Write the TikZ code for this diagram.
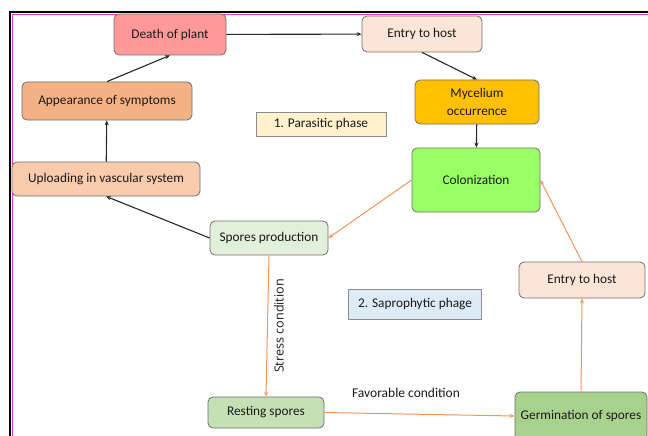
\documentclass[tikz,border=0pt]{standalone}
\usepackage{fontspec}
\setmainfont{Carlito}
\newfontfamily\labelfont{Open Sans}
\usepackage{xcolor}
\usetikzlibrary{arrows.meta}
\definecolor{deathred}{HTML}{FF9999}
\definecolor{entrypeach}{HTML}{FBE5D6}
\definecolor{symporange}{HTML}{F4B183}
\definecolor{uploadpeach}{HTML}{F8CBAD}
\definecolor{myceliumgold}{HTML}{FFC000}
\definecolor{colongreen}{HTML}{99FF66}
\definecolor{sporegreen}{HTML}{E2EFDA}
\definecolor{restgreen}{HTML}{C5E0B4}
\definecolor{germgreen}{HTML}{A9D18E}
\definecolor{phaseyellow}{HTML}{FFF2CC}
\definecolor{phaseblue}{HTML}{DEEBF7}
\definecolor{boxgray}{HTML}{6F6F6F}
\definecolor{textgray}{HTML}{1A1A1A}
\definecolor{lineorange}{HTML}{F4945A}
\definecolor{framepink}{HTML}{E040C0}

\begin{document}
\begin{tikzpicture}[
  x=1pt, y=-1pt,
  >=Stealth,
  stage/.style={rectangle, draw=boxgray, line width=0.8pt, rounded corners=5pt, align=center, text=textgray, font=\fontsize{13.3}{17.5}\selectfont, inner sep=2pt},
  phase/.style={rectangle, draw=boxgray!80, line width=0.8pt, align=center, text=textgray, font=\fontsize{13.3}{15}\selectfont},
  flow/.style={-{Stealth[length=5pt,width=4pt]}, draw=black!85, line width=1.1pt},
  hostflow/.style={-{Stealth[length=5pt,width=4pt]}, draw=lineorange, line width=1pt}
]
  \useasboundingbox (0,0) rectangle (648,436);
  % frame
  \draw[line width=2.6pt] (10,440) -- (10,12) -- (652,12);
  \draw[framepink, line width=0.8pt] (12.1,440) -- (12.1,14) -- (652,14);

  % parasitic cycle
  \node[stage, fill=deathred, minimum width=112pt, minimum height=41pt] (death) at (170,34.5) {Death of plant};
  \node[stage, fill=entrypeach, minimum width=120pt, minimum height=36pt] (entrytop) at (422,34) {Entry to host};
  \node[stage, fill=myceliumgold, minimum width=124pt, minimum height=44pt] (mycelium) at (477,102) {Mycelium\\occurrence};
  \node[stage, fill=colongreen, minimum width=128pt, minimum height=64pt] (colon) at (476,180) {Colonization};
  \node[stage, fill=symporange, minimum width=170pt, minimum height=38pt] (symptoms) at (107,101) {Appearance of symptoms};
  \node[stage, fill=uploadpeach, minimum width=188pt, minimum height=34pt] (uploading) at (106,179) {Uploading in vascular system};
  \node[stage, fill=sporegreen, minimum width=118pt, minimum height=34pt] (sporeprod) at (269,238) {Spores production};
  \node[phase, fill=phaseyellow, minimum width=130pt, minimum height=24pt] (parasitic) at (321,124) {1. Parasitic phase};

  % saprophytic cycle
  \node[stage, fill=restgreen, minimum width=116pt, minimum height=31pt] (resting) at (266,412.5) {Resting spores};
  \node[stage, fill=germgreen, minimum width=132pt, minimum height=48pt] (germ) at (581,416) {Germination of spores};
  \node[stage, fill=entrypeach, minimum width=126pt, minimum height=36pt] (entryright) at (582,280) {Entry to host};
  \node[phase, fill=phaseblue, minimum width=133pt, minimum height=30pt] (sapro) at (415,304) {2. Saprophytic phage};

  \node[text=textgray, font=\fontsize{13.5}{15}\selectfont] (favorable) at (406,393) {Favorable condition};
  \node[text=textgray, font=\labelfont\fontsize{12.6}{15}\selectfont, rotate=90] (stress) at (279,326) {Stress condition};

  \draw[flow] (death) -- (entrytop);
  \draw[flow] (entrytop.south) -- (mycelium.north);
  \draw[flow] (mycelium) -- (colon);
  \draw[hostflow] (colon.west) -- (sporeprod.east);
  \draw[flow] (sporeprod.west) -- (uploading.south);
  \draw[flow] (uploading) -- (symptoms);
  \draw[flow] (symptoms.north) -- (death.south);
  \draw[hostflow] (sporeprod.south) -- (resting.north);
  \draw[hostflow] (resting.east) -- (germ.west);
  \draw[hostflow] (germ.north) -- (entryright.south);
  \draw[hostflow] (entryright.north) -- (colon.east);
\end{tikzpicture}
\end{document}
